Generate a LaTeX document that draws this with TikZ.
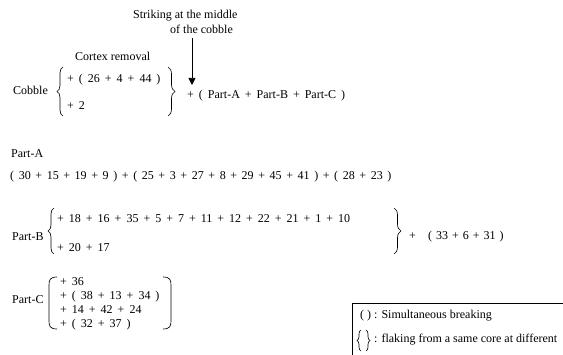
\documentclass[tikz,border=0pt]{standalone}
\usepackage{fontspec}
\setmainfont{Liberation Serif}
\usetikzlibrary{arrows.meta,decorations.pathreplacing}
\tikzset{
  txt/.style={anchor=base west, inner sep=0pt, font=\fontsize{12}{14}\selectfont},
  eq/.style={txt, execute at begin node={\spaceskip=#1\relax}},
  eq/.default=5pt,
  brc/.style={decorate, decoration={brace, amplitude=#1}, line width=0.65pt},
  brc/.default=6pt,
  arr/.style={-{Triangle[width=7pt,length=7pt]}, line width=0.7pt},
  bracket/.style={line width=0.65pt},
  legendbox/.style={line width=0.7pt}
}
\begin{document}
\begin{tikzpicture}[x=1pt,y=-1pt]
\fill[white] (0,0) rectangle (563,355);
\useasboundingbox (0,0) rectangle (563,355);
% top
\node[txt] (strike1) at (133,19) {Striking at the middle};
\node[txt] (strike2) at (170,34) {of the cobble};
\coordinate (arrtop) at (192,38);
\coordinate (arrtip) at (192,85);
\draw[arr] (arrtop) -- (arrtip);
\node[txt] (cortex) at (75,61) {Cortex removal};
\node[txt] (cobble) at (13,95) {Cobble};
\draw[brc=6pt] (63,116) -- (63,67);
\node[eq] (c1) at (67,83) {+ ( 26 + 4 + 44 )};
\node[eq] (c2) at (67,110) {+ 2};
\draw[brc=7pt] (168,67) -- (168,116);
\node[eq] (parts) at (187,99) {+ ( Part-A + Part-B + Part-C )};
% Part A
\node[txt] (pa) at (11,158) {Part-A};
\node[eq=4.6pt] (arow) at (10,180) {( 30 + 15 + 19 + 9 ) + ( 25 + 3 + 27 + 8 + 29 + 45 + 41 ) + ( 28 + 23 )};
% Part B
\node[txt] (pb) at (12,241) {Part-B};
\draw[brc=6pt] (54,254) -- (54,208);
\node[eq] (b1) at (57,223) {+ 18 + 16 + 35 + 5 + 7 + 11 + 12 + 22 + 21 + 1 + 10};
\node[eq] (b2) at (57,252) {+ 20 + 17};
\draw[brc=7pt] (394,208) -- (394,254);
\node[txt] (bplus) at (409,240) {+};
\node[eq=4pt] (b3) at (428,240) {( 33 + 6 + 31 )};
% Part C
\node[txt] (pc) at (12,304) {Part-C};
\draw[bracket] (57,277) .. controls (50,277) and (49,280) .. (49,285) -- (49,321) .. controls (49,326) and (50,329) .. (57,329);
\draw[bracket] (163,277) .. controls (170,277) and (171,280) .. (171,285) -- (171,321) .. controls (171,326) and (170,329) .. (163,329);
\node[eq] (cr1) at (60,286) {+ 36};
\node[eq] (cr2) at (60,300) {+ ( 38 + 13 + 34 )};
\node[eq] (cr3) at (60,314) {+ 14 + 42 + 24};
\node[eq] (cr4) at (60,328) {+ ( 32 + 37 )};
% legend
\draw[legendbox] (352,356) |- (564,303);
\node[txt] (leg1) at (360,319) {( ) : Simultaneous breaking};
\draw[brc=4pt] (361,351) -- (361,330);
\draw[brc=4pt] (366,330) -- (366,351);
\node[txt] (leg2) at (374,343) {: flaking from a same core at different};
\end{tikzpicture}
\end{document}
